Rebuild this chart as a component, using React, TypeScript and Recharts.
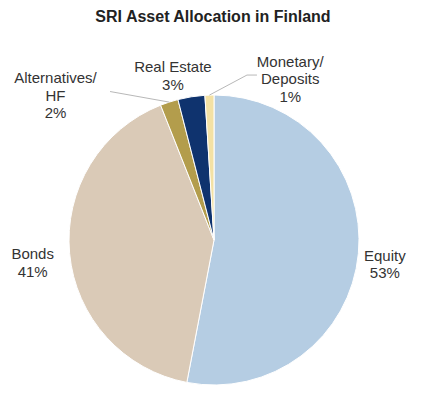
import React from "react";
import { PieChart, Pie, Cell } from "recharts";

const CATEGORIES = ["Equity", "Bonds", "Alternatives/\nHF", "Real Estate", "Monetary/\nDeposits"];
const SHARES = [53, 41, 2, 3, 1];
const COLORS = ["#b5cde3", "#dacab7", "#b39d4c", "#0f336e", "#f3e1a4"];

// where each label sits: angle in degrees (math), distance as a multiple of the radius
const LABEL_LAYOUT: Record<string, { angle: number; dist: number; leader?: { angle: number; dist: number; tail?: number } }> = {
  Equity: { angle: -8, dist: 1.19 },
  Bonds: { angle: 187, dist: 1.26 },
  "Alternatives/\nHF": { angle: 137.6, dist: 1.48, leader: { angle: 125, dist: 1.25 } },
  "Real Estate": { angle: 104, dist: 1.17 },
  "Monetary/\nDeposits": { angle: 64.7, dist: 1.23, leader: { angle: 78.7, dist: 1.16, tail: 10 } },
};

const data = CATEGORIES.map((name, i) => ({ name, value: SHARES[i] }));

const RAD = Math.PI / 180;
const FONT = "'Liberation Sans', Arial, sans-serif";

function polar(cx: number, cy: number, r: number, angle: number) {
  return { x: cx + r * Math.cos(angle * RAD), y: cy - r * Math.sin(angle * RAD) };
}

function renderLabel(props: any) {
  const { cx, cy, midAngle, outerRadius, name, value } = props;
  const layout = LABEL_LAYOUT[name];
  if (!layout) return null;
  const lines = [...String(name).split("\n"), `${value}%`];
  const center = polar(cx, cy, outerRadius * layout.dist, layout.angle);
  const lineH = 17.5;
  const top = center.y - ((lines.length - 1) * lineH) / 2;

  let leader = null;
  if (layout.leader) {
    const a = polar(cx, cy, outerRadius, midAngle);
    const b = polar(cx, cy, outerRadius * layout.leader.dist, layout.leader.angle);
    const pts = [`${a.x},${a.y}`, `${b.x},${b.y}`];
    if (layout.leader.tail) pts.push(`${b.x + layout.leader.tail},${b.y}`);
    leader = <polyline points={pts.join(" ")} fill="none" stroke="#b8b8b8" strokeWidth={1} />;
  }

  return (
    <g>
      {leader}
      <text x={center.x} textAnchor="middle" fontFamily={FONT} fontSize={15} fill="#333">
        {lines.map((l, i) => (
          <tspan key={i} x={center.x} y={top + i * lineH} dominantBaseline="central">
            {l}
          </tspan>
        ))}
      </text>
    </g>
  );
}

export default function App() {
  return (
    <div style={{ position: "absolute", left: 0, top: 0, width: 424, height: 409, background: "#fff" }}>
      <div
        style={{
          position: "absolute",
          top: 8,
          left: 0,
          width: 426,
          textAlign: "center",
          fontFamily: FONT,
          fontWeight: "bold",
          fontSize: 16,
          color: "#222",
        }}
      >
        SRI Asset Allocation in Finland
      </div>
      <PieChart width={424} height={409} margin={{ top: 0, right: 0, bottom: 0, left: 0 }}>
        <Pie
          data={data}
          dataKey="value"
          nameKey="name"
          cx={214}
          cy={240}
          outerRadius={145}
          startAngle={90}
          endAngle={-270}
          stroke="#fff"
          strokeWidth={1}
          label={renderLabel}
          labelLine={false}
          isAnimationActive={false}
        >
          {data.map((d, i) => (
            <Cell key={d.name} fill={COLORS[i]} />
          ))}
        </Pie>
      </PieChart>
    </div>
  );
}
